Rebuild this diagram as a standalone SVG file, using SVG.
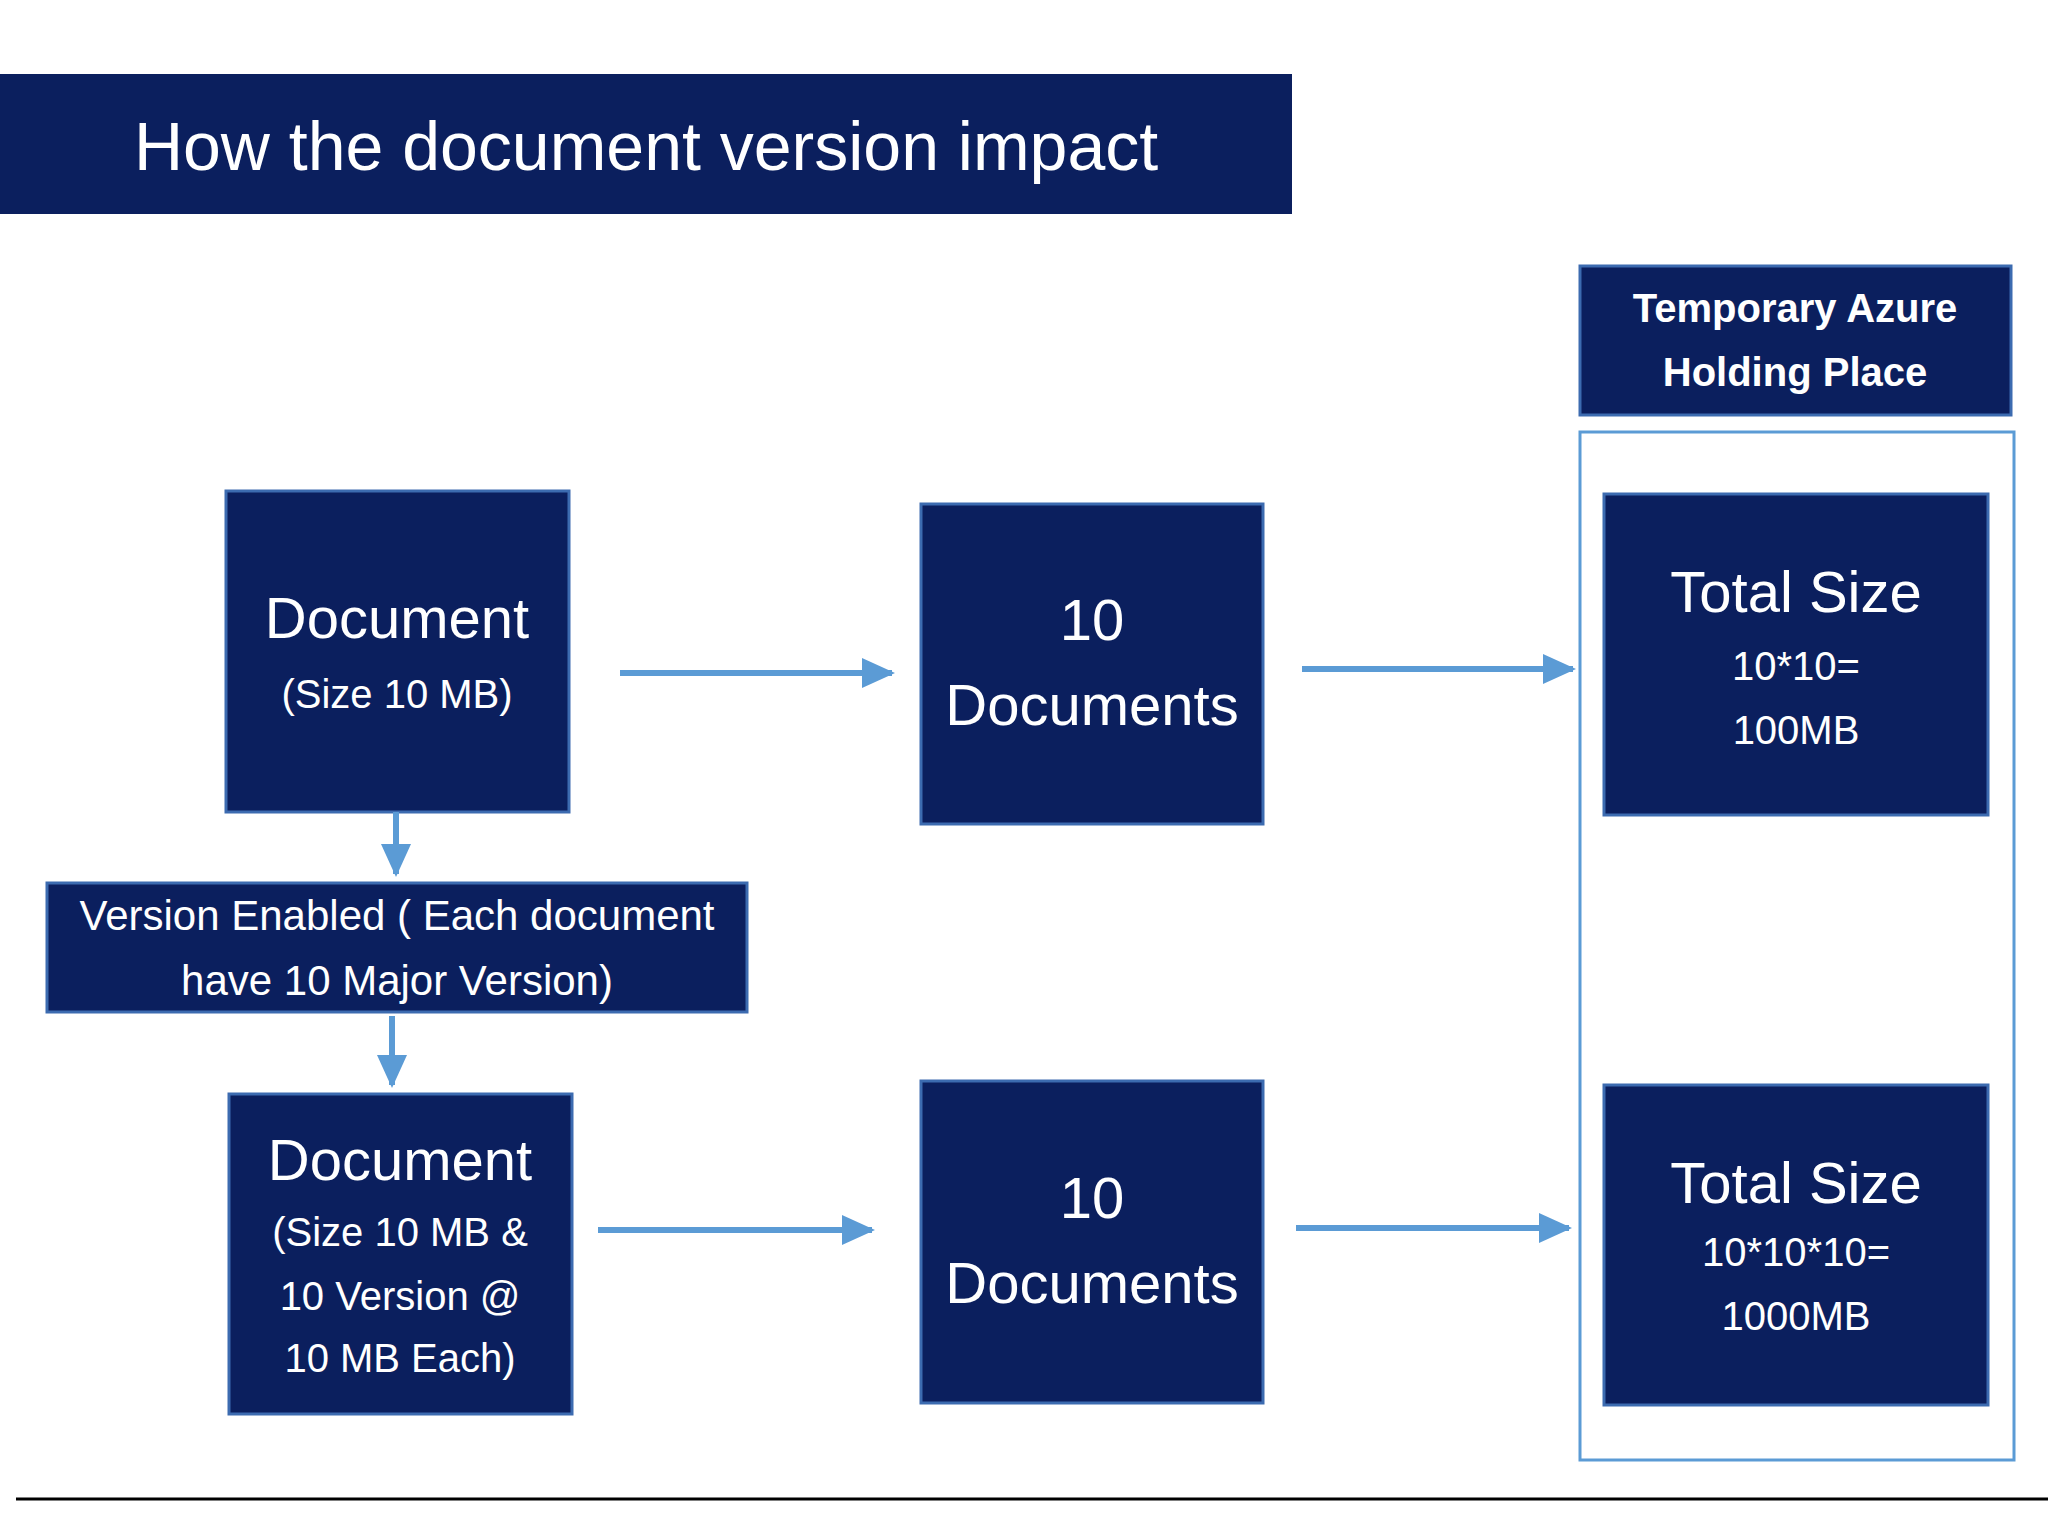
<svg xmlns="http://www.w3.org/2000/svg" width="2048" height="1536" viewBox="0 0 2048 1536">
<style>
.box{fill:#0B1F5E;stroke:#3C6BB0;stroke-width:3}
.t{font-family:"Liberation Sans",Arial,sans-serif;fill:#fff;text-anchor:middle}
.con{stroke:#5B9BD5;stroke-width:6;fill:none;marker-end:url(#ah)}
</style>
<defs><marker id="ah" markerWidth="6" markerHeight="6" refX="5" refY="3" orient="auto" markerUnits="strokeWidth"><path d="M0,0.5 L5.5,3 L0,5.5 Z" fill="#5B9BD5"/></marker></defs>
<rect width="2048" height="1536" fill="#fff"/>
<g id="title"><rect x="0" y="74" width="1292" height="140" fill="#0B1F5E"/><text class="t" x="646" y="170" font-size="68">How the document version impact</text></g>
<g id="azure"><rect class="box" x="1580" y="266" width="431" height="149"/><text class="t" font-weight="bold" font-size="40" x="1795" y="322">Temporary Azure</text><text class="t" font-weight="bold" font-size="40" x="1795" y="386">Holding Place</text></g>
<g id="container"><rect x="1580" y="432" width="434" height="1028" fill="none" stroke="#5B9BD5" stroke-width="3"/></g>
<g id="doc1"><rect class="box" x="226" y="491" width="343" height="321"/><text class="t" font-size="58" x="397" y="638">Document</text><text class="t" font-size="40" x="397" y="708">(Size 10 MB)</text></g>
<g id="docs1"><rect class="box" x="921" y="504" width="342" height="320"/><text class="t" font-size="58" x="1092" y="640">10</text><text class="t" font-size="58" x="1092" y="725">Documents</text></g>
<g id="total1"><rect class="box" x="1604" y="494" width="384" height="321"/><text class="t" font-size="58" x="1796" y="612">Total Size</text><text class="t" font-size="40" x="1796" y="680">10*10=</text><text class="t" font-size="40" x="1796" y="744">100MB</text></g>
<g id="version"><rect class="box" x="47" y="883" width="700" height="129"/><text class="t" font-size="42" x="397" y="930">Version Enabled ( Each document</text><text class="t" font-size="42" x="397" y="995">have 10 Major Version)</text></g>
<g id="doc2"><rect class="box" x="229" y="1094" width="343" height="320"/><text class="t" font-size="58" x="400" y="1180">Document</text><text class="t" font-size="40" x="400" y="1246">(Size 10 MB &amp;</text><text class="t" font-size="40" x="400" y="1310">10 Version @</text><text class="t" font-size="40" x="400" y="1372">10 MB Each)</text></g>
<g id="docs2"><rect class="box" x="921" y="1081" width="342" height="322"/><text class="t" font-size="58" x="1092" y="1218">10</text><text class="t" font-size="58" x="1092" y="1303">Documents</text></g>
<g id="total2"><rect class="box" x="1604" y="1085" width="384" height="320"/><text class="t" font-size="58" x="1796" y="1203">Total Size</text><text class="t" font-size="40" x="1796" y="1266">10*10*10=</text><text class="t" font-size="40" x="1796" y="1330">1000MB</text></g>
<g id="connectors">
<line class="con" x1="620" y1="673" x2="892" y2="673"/>
<line class="con" x1="1302" y1="669" x2="1573" y2="669"/>
<line class="con" x1="598" y1="1230" x2="872" y2="1230"/>
<line class="con" x1="1296" y1="1228" x2="1569" y2="1228"/>
<line class="con" x1="396" y1="812" x2="396" y2="874"/>
<line class="con" x1="392" y1="1016" x2="392" y2="1085"/>
</g>
<line x1="16" y1="1499" x2="2048" y2="1499" stroke="#000" stroke-width="3"/>
</svg>
